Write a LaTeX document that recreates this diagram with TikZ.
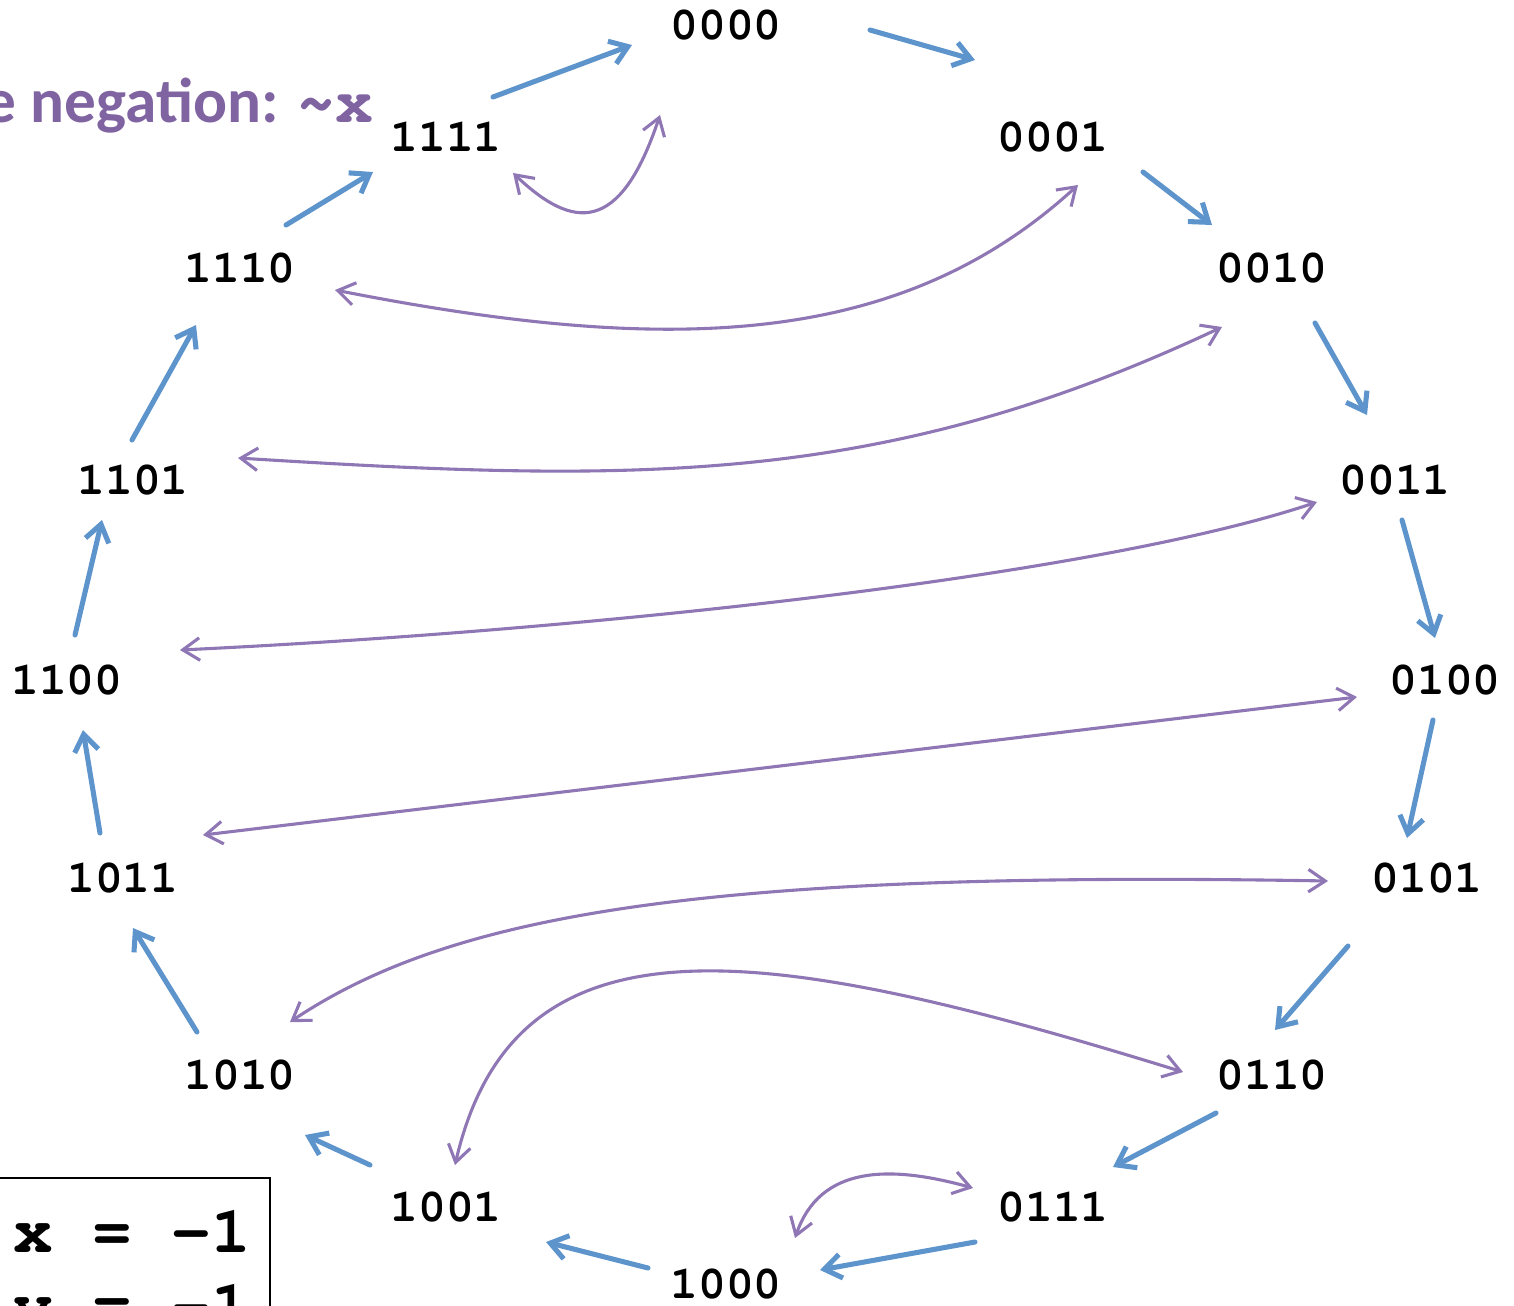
\documentclass[tikz,border=0pt]{standalone}
\usepackage[T1]{fontenc}
\usepackage{fontspec}
\setmonofont{Liberation Mono}
\newfontfamily\titlefont{Carlito}
\newcommand\courbf{\fontencoding{T1}\fontfamily{pcr}\bfseries}
\usetikzlibrary{arrows.meta}

\definecolor{incblue}{RGB}{94,148,204}
\definecolor{negpurple}{RGB}{143,118,180}
\definecolor{titlepurple}{RGB}{128,100,162}

\begin{document}
\begin{tikzpicture}
[
	x=0.025cm, y=-0.025cm,
	bits/.style={inner sep=0, font=\courbf\fontsize{33}{33}\selectfont},
	inc/.style={draw=incblue, line width=3.6pt, line cap=round, -{Straight Barb[length=12pt,width=17pt]}},
	neg/.style={draw=negpurple, line width=2.2pt, line cap=round, {Straight Barb[length=12pt,width=16pt]}-{Straight Barb[length=12pt,width=16pt]}}
]
\clip (0,0) rectangle (1514,1305);

\node[bits] (n0000) at (726,25) {0000};
\node[bits] (n0001) at (1053,137) {0001};
\node[bits] (n0010) at (1272,268) {0010};
\node[bits] (n0011) at (1395,480) {0011};
\node[bits] (n0100) at (1445,680) {0100};
\node[bits] (n0101) at (1427,878) {0101};
\node[bits] (n0110) at (1272,1075) {0110};
\node[bits] (n0111) at (1053,1207) {0111};
\node[bits] (n1000) at (726,1284) {1000};
\node[bits] (n1001) at (446,1207) {1001};
\node[bits] (n1010) at (240,1075) {1010};
\node[bits] (n1011) at (123,878) {1011};
\node[bits] (n1100) at (67,680) {1100};
\node[bits] (n1101) at (133,480) {1101};
\node[bits] (n1110) at (240,268) {1110};
\node[bits] (n1111) at (446,137) {1111};

\node[anchor=base east, inner sep=0, text=titlepurple, font=\titlefont\bfseries\fontsize{45}{45}\selectfont] (title) at (374,122) {e negation: {\courbf\textasciitilde x}};

\draw[line width=1pt] (-10,1178) rectangle (270,1340);
\node[anchor=base west, inner sep=0, font=\courbf\fontsize{47}{47}\selectfont] (xval) at (13,1252) {x = -1};
\node[anchor=base west, inner sep=0, font=\courbf\fontsize{47}{47}\selectfont] (yval) at (13,1326) {y = -1};

% +1 steps
\draw[inc] ([shift={(144,5)}]n0000.center) -- ([shift={(-78,-77)}]n0001.center);
\draw[inc] ([shift={(90,35)}]n0001.center) -- ([shift={(-60,-43)}]n0010.center);
\draw[inc] ([shift={(43,55)}]n0010.center) -- ([shift={(-28,-65)}]n0011.center);
\draw[inc] ([shift={(7,40)}]n0011.center) -- ([shift={(-10,-42)}]n0100.center);
\draw[inc] ([shift={(-12,40)}]n0100.center) -- ([shift={(-20,-40)}]n0101.center);
\draw[inc] ([shift={(-79,68)}]n0101.center) -- ([shift={(3,-45)}]n0110.center);
\draw[inc] ([shift={(-56,38)}]n0110.center) -- ([shift={(60,-40)}]n0111.center);
\draw[inc] ([shift={(-78,35)}]n0111.center) -- ([shift={(94,-14)}]n1000.center);
\draw[inc] ([shift={(-78,-16)}]n1000.center) -- ([shift={(100,35)}]n1001.center);
\draw[inc] ([shift={(-76,-42)}]n1001.center) -- ([shift={(65,60)}]n1010.center);
\draw[inc] ([shift={(-43,-43)}]n1010.center) -- ([shift={(10,50)}]n1011.center);
\draw[inc] ([shift={(-23,-45)}]n1011.center) -- ([shift={(16,50)}]n1100.center);
\draw[inc] ([shift={(8,-45)}]n1100.center) -- ([shift={(-31,40)}]n1101.center);
\draw[inc] ([shift={(-1,-40)}]n1101.center) -- ([shift={(-44,57)}]n1110.center);
\draw[inc] ([shift={(46,-43)}]n1110.center) -- ([shift={(-73,35)}]n1111.center);
\draw[inc] ([shift={(47,-40)}]n1111.center) -- ([shift={(-94,20)}]n0000.center);

% negation pairs
\draw[neg] ([shift={(67,36)}]n1111.center) .. controls +(60,57) and +(-40,120) .. ([shift={(-66,90)}]n0000.center);
\draw[neg] ([shift={(95,22)}]n1110.center) .. controls +(330,65) and +(-180,165) .. ([shift={(25,48)}]n0001.center);
\draw[neg] ([shift={(105,-22)}]n1101.center) .. controls +(400,25) and +(-340,160) .. ([shift={(-50,59)}]n0010.center);
\draw[neg] ([shift={(113,-30)}]n1100.center) .. controls +(420,-20) and +(-217,73) .. ([shift={(-78,22)}]n0011.center);
\draw[neg] ([shift={(80,-43)}]n1011.center) -- ([shift={(-88,17)}]n0100.center);
\draw[neg] ([shift={(50,-53)}]n1010.center) .. controls +(160,-107) and +(-628,-11) .. ([shift={(-99,3)}]n0101.center);
\draw[neg] ([shift={(9,-42)}]n1001.center) .. controls +(60,-260) and +(-420,-130) .. ([shift={(-89,-3)}]n0110.center);
\draw[neg] ([shift={(69,-46)}]n1000.center) .. controls +(25,-73) and +(-83,-23) .. ([shift={(-80,-19)}]n0111.center);

\end{tikzpicture}
\end{document}
